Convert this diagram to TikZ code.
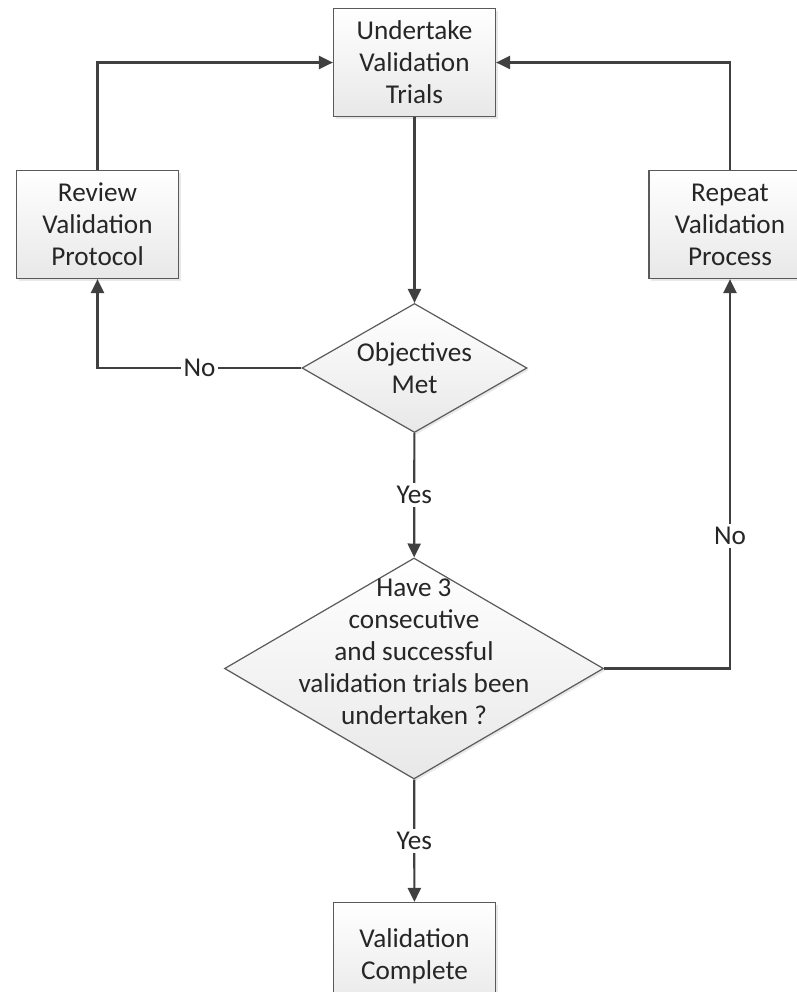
\documentclass[tikz,border=0pt]{standalone}
\usepackage{fontspec}
\setmainfont{Carlito}
\usetikzlibrary{arrows.meta,shapes.geometric,shadows}
\definecolor{linegray}{HTML}{404040}
\definecolor{edgegray}{HTML}{5A5A5A}
\definecolor{txtgray}{HTML}{262626}
\begin{document}
\begin{tikzpicture}[x=0.5pt, y=-0.5pt,
	box/.style={rectangle, draw=edgegray, line width=0.6pt, top color=white, bottom color=black!9,
		drop shadow={shadow xshift=1pt, shadow yshift=-1pt, opacity=0.18},
		minimum width=81pt, minimum height=54pt, inner sep=0pt, align=center,
		font=\fontsize{13.6}{16}\selectfont, text=txtgray},
	decision/.style={diamond, draw=edgegray, line width=0.6pt, top color=white, bottom color=black!9,
		drop shadow={shadow xshift=1pt, shadow yshift=-1pt, opacity=0.18}, inner sep=0pt},
	txt/.style={align=center, inner sep=0pt, font=\fontsize{13.6}{16}\selectfont, text=txtgray},
	lbl/.style={fill=white, inner sep=1.5pt, font=\fontsize{13.6}{16}\selectfont, text=txtgray},
	flow/.style={draw=linegray, line width=1.1pt, -{Triangle[length=7pt, width=6.5pt]}}]
	% page, in pixels of the reference
	\path[use as bounding box, fill=white] (0, 0) rectangle (797, 992);

	\node[box] (trials) at (414.5, 62.5) {Undertake\\Validation\\Trials};
	\node[box] (review) at (97.5, 224.5) {Review\\Validation\\Protocol};
	\node[box] (repeat) at (730, 224.5) {Repeat\\Validation\\Process};
	\node[decision, minimum width=112.5pt, minimum height=64.5pt] (met) at (414.5, 368) {};
	\node[txt] (metlabel) at (met) {Objectives\\Met};
	\node[decision, minimum width=189.5pt, minimum height=110.5pt] (three) at (414, 668.5) {};
	\node[txt] (threelabel) at (414, 652) {Have 3\\consecutive\\and successful\\validation trials been\\undertaken ?};
	\node[box] (done) at (414.5, 956.5) {Validation\\Complete};

	\draw[flow] (review.north) |- (trials.west);
	\draw[flow] (repeat.north) |- (trials.east);
	\draw[flow] (trials) -- (met);
	\draw[flow] (met.west) -| node[lbl, pos=0.25] {No} (review.south);
	\draw[flow] (met) -- node[lbl] {Yes} (three);
	\draw[flow] (three.east) -| node[lbl, pos=0.67] {No} (repeat.south);
	\draw[flow] (three) -- node[lbl] {Yes} (done);
\end{tikzpicture}
\end{document}
